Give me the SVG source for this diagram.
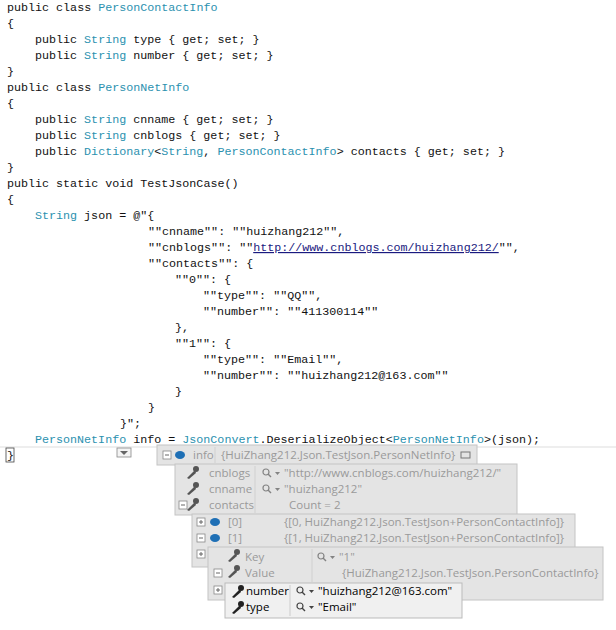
<svg xmlns="http://www.w3.org/2000/svg" width="616" height="630" viewBox="0 0 616 630">
<defs>
<g id="mag"><circle cx="4" cy="-5" r="3" fill="none" stroke="#444" stroke-width="1.2"/><line x1="6" y1="-3" x2="9" y2="0" stroke="#444" stroke-width="1.4"/><path d="M13 -5h5l-2.5 3z" fill="#444"/></g>
</defs>
<style>
.c{font-family:"Liberation Mono",monospace;font-size:11.7px;fill:#111;white-space:pre}
.t{fill:#2b91af}
.u{fill:#1a1a80;text-decoration:underline}
.s{font-family:"Open Sans","Liberation Sans",sans-serif;font-size:11.5px;fill:#9a9a9a}
.k{fill:#000}
.box{fill:#e4e4e4;stroke:#c4c4c4}
.sep{stroke:#d0d0d0}
.pm{fill:#fff;stroke:#888;stroke-width:0.8}
.w{fill:#555}
</style>
<rect width="616" height="630" fill="#fff"/>
<g id="code">
<text class="c" x="7" y="11">public class <tspan class="t">PersonContactInfo</tspan></text>
<text class="c" x="7" y="27">{</text>
<text class="c" x="35" y="43">public <tspan class="t">String</tspan> type { get; set; }</text>
<text class="c" x="35" y="59">public <tspan class="t">String</tspan> number { get; set; }</text>
<text class="c" x="7" y="75">}</text>
<text class="c" x="7" y="91">public class <tspan class="t">PersonNetInfo</tspan></text>
<text class="c" x="7" y="107">{</text>
<text class="c" x="35" y="123">public <tspan class="t">String</tspan> cnname { get; set; }</text>
<text class="c" x="35" y="139">public <tspan class="t">String</tspan> cnblogs { get; set; }</text>
<text class="c" x="35" y="155">public <tspan class="t">Dictionary</tspan>&lt;<tspan class="t">String</tspan>, <tspan class="t">PersonContactInfo</tspan>&gt; contacts { get; set; }</text>
<text class="c" x="7" y="171">}</text>
<text class="c" x="7" y="187">public static void TestJsonCase()</text>
<text class="c" x="7" y="203">{</text>
<text class="c" x="35" y="219"><tspan class="t">String</tspan> json = @"{</text>
<text class="c" x="148" y="235">""cnname"": ""huizhang212"",</text>
<text class="c" x="148" y="251">""cnblogs"": ""<tspan class="u">http://www.cnblogs.com/huizhang212/</tspan>"",</text>
<text class="c" x="148" y="267">""contacts"": {</text>
<text class="c" x="175" y="283">""0"": {</text>
<text class="c" x="203" y="299">""type"": ""QQ"",</text>
<text class="c" x="203" y="315">""number"": ""411300114""</text>
<text class="c" x="175" y="331">},</text>
<text class="c" x="175" y="347">""1"": {</text>
<text class="c" x="203" y="363">""type"": ""Email"",</text>
<text class="c" x="203" y="379">""number"": ""huizhang212@163.com""</text>
<text class="c" x="175" y="395">}</text>
<text class="c" x="148" y="411">}</text>
<text class="c" x="120" y="427">}";</text>
<text class="c" x="35" y="443"><tspan class="t">PersonNetInfo</tspan> info = <tspan class="t">JsonConvert</tspan>.DeserializeObject&lt;<tspan class="t">PersonNetInfo</tspan>&gt;(json);</text>
<line x1="0" y1="447" x2="616" y2="447" stroke="#ddd"/>
<rect x="6" y="448" width="8" height="14" fill="none" stroke="#444" stroke-width="0.8"/>
<text class="c" x="7" y="459">}</text>
</g>
<g id="tip-icon">
<rect x="117" y="448" width="14" height="9" fill="#f4f4f4" stroke="#888" stroke-width="0.8"/>
<path d="M120 451h8l-4 4z" fill="#666"/>
</g>
<g id="box-info">
<rect class="box" x="157" y="445" width="320" height="20"/>
<rect class="pm" x="163" y="451" width="8" height="8"/><line x1="165" y1="455" x2="169" y2="455" stroke="#666"/>
<ellipse cx="180" cy="455" rx="5" ry="4" fill="#1e6fb5"/>
<text class="s" x="193" y="459">info</text>
<line class="sep" x1="215" y1="447" x2="215" y2="463"/>
<text class="s" x="221" y="459">{HuiZhang212.Json.TestJson.PersonNetInfo}</text>
<rect x="461" y="452" width="9" height="6" fill="none" stroke="#777"/>
</g>
<g id="box-props">
<rect class="box" x="175" y="464" width="342" height="51"/>
<path class="w" d="M195 470l-8 8 2 1 7-6z"/><circle class="w" cx="196" cy="469" r="3"/>
<text class="s" x="209" y="477">cnblogs</text>
<line class="sep" x1="255" y1="466" x2="255" y2="513"/>
<use href="#mag" x="262" y="477" opacity="0.6"/>
<text class="s" x="284" y="477">"http://www.cnblogs.com/huizhang212/"</text>
<path class="w" d="M195 486l-8 8 2 1 7-6z"/><circle class="w" cx="196" cy="485" r="3"/>
<text class="s" x="209" y="493">cnname</text>
<use href="#mag" x="262" y="493" opacity="0.6"/>
<text class="s" x="284" y="493">"huizhang212"</text>
<rect class="pm" x="179" y="501" width="8" height="8"/><line x1="181" y1="505" x2="185" y2="505" stroke="#666"/>
<path class="w" d="M195 502l-8 8 2 1 7-6z"/><circle class="w" cx="196" cy="501" r="3"/>
<text class="s" x="209" y="509">contacts</text>
<text class="s" x="289" y="509">Count = 2</text>
</g>
<g id="box-items">
<rect class="box" x="192" y="514" width="383" height="53"/>
<rect class="pm" x="197" y="518" width="8" height="8"/><path d="M199 522h4M201 520v4" stroke="#666"/>
<ellipse cx="215" cy="522" rx="5" ry="4" fill="#1e6fb5"/>
<text class="s" x="228" y="526">[0]</text>
<text class="s" x="284" y="526">{[0, HuiZhang212.Json.TestJson+PersonContactInfo]}</text>
<rect class="pm" x="197" y="534" width="8" height="8"/><line x1="199" y1="538" x2="203" y2="538" stroke="#666"/>
<ellipse cx="215" cy="538" rx="5" ry="4" fill="#1e6fb5"/>
<text class="s" x="228" y="542">[1]</text>
<text class="s" x="284" y="542">{[1, HuiZhang212.Json.TestJson+PersonContactInfo]}</text>
<rect class="pm" x="197" y="550" width="8" height="8"/><path d="M199 554h4M201 552v4" stroke="#666"/>
</g>
<g id="box-kv">
<rect class="box" x="208" y="547" width="395" height="53"/>
<path class="w" d="M236 553l-8 8 2 1 7-6z"/><circle class="w" cx="237" cy="552" r="3"/>
<text class="s" x="245" y="561">Key</text>
<line class="sep" x1="312" y1="549" x2="312" y2="582"/>
<use href="#mag" x="317" y="561" opacity="0.6"/>
<text class="s" x="339" y="561">"1"</text>
<rect class="pm" x="214" y="569" width="8" height="8"/><line x1="216" y1="573" x2="220" y2="573" stroke="#666"/>
<path class="w" d="M236 569l-8 8 2 1 7-6z"/><circle class="w" cx="237" cy="568" r="3"/>
<text class="s" x="245" y="577">Value</text>
<text class="s" x="342" y="577">{HuiZhang212.Json.TestJson.PersonContactInfo}</text>
<rect class="pm" x="214" y="586" width="8" height="8"/><path d="M216 590h4M218 588v4" stroke="#666"/>
</g>
<g id="box-fields">
<rect x="225" y="583" width="237" height="35" fill="#f0f0f0" stroke="#bbb"/>
<path d="M240 589l-8 8 2 1 7-6z" fill="#222"/><circle cx="241" cy="588" r="3" fill="#222"/>
<text class="s k" x="246" y="595">number</text>
<line x1="290" y1="585" x2="290" y2="616" stroke="#ccc"/>
<use href="#mag" x="296" y="595"/>
<text class="s k" x="318" y="595">"huizhang212@163.com"</text>
<path d="M240 605l-8 8 2 1 7-6z" fill="#222"/><circle cx="241" cy="604" r="3" fill="#222"/>
<text class="s k" x="246" y="611">type</text>
<use href="#mag" x="296" y="611"/>
<text class="s k" x="318" y="611">"Email"</text>
</g>
</svg>
